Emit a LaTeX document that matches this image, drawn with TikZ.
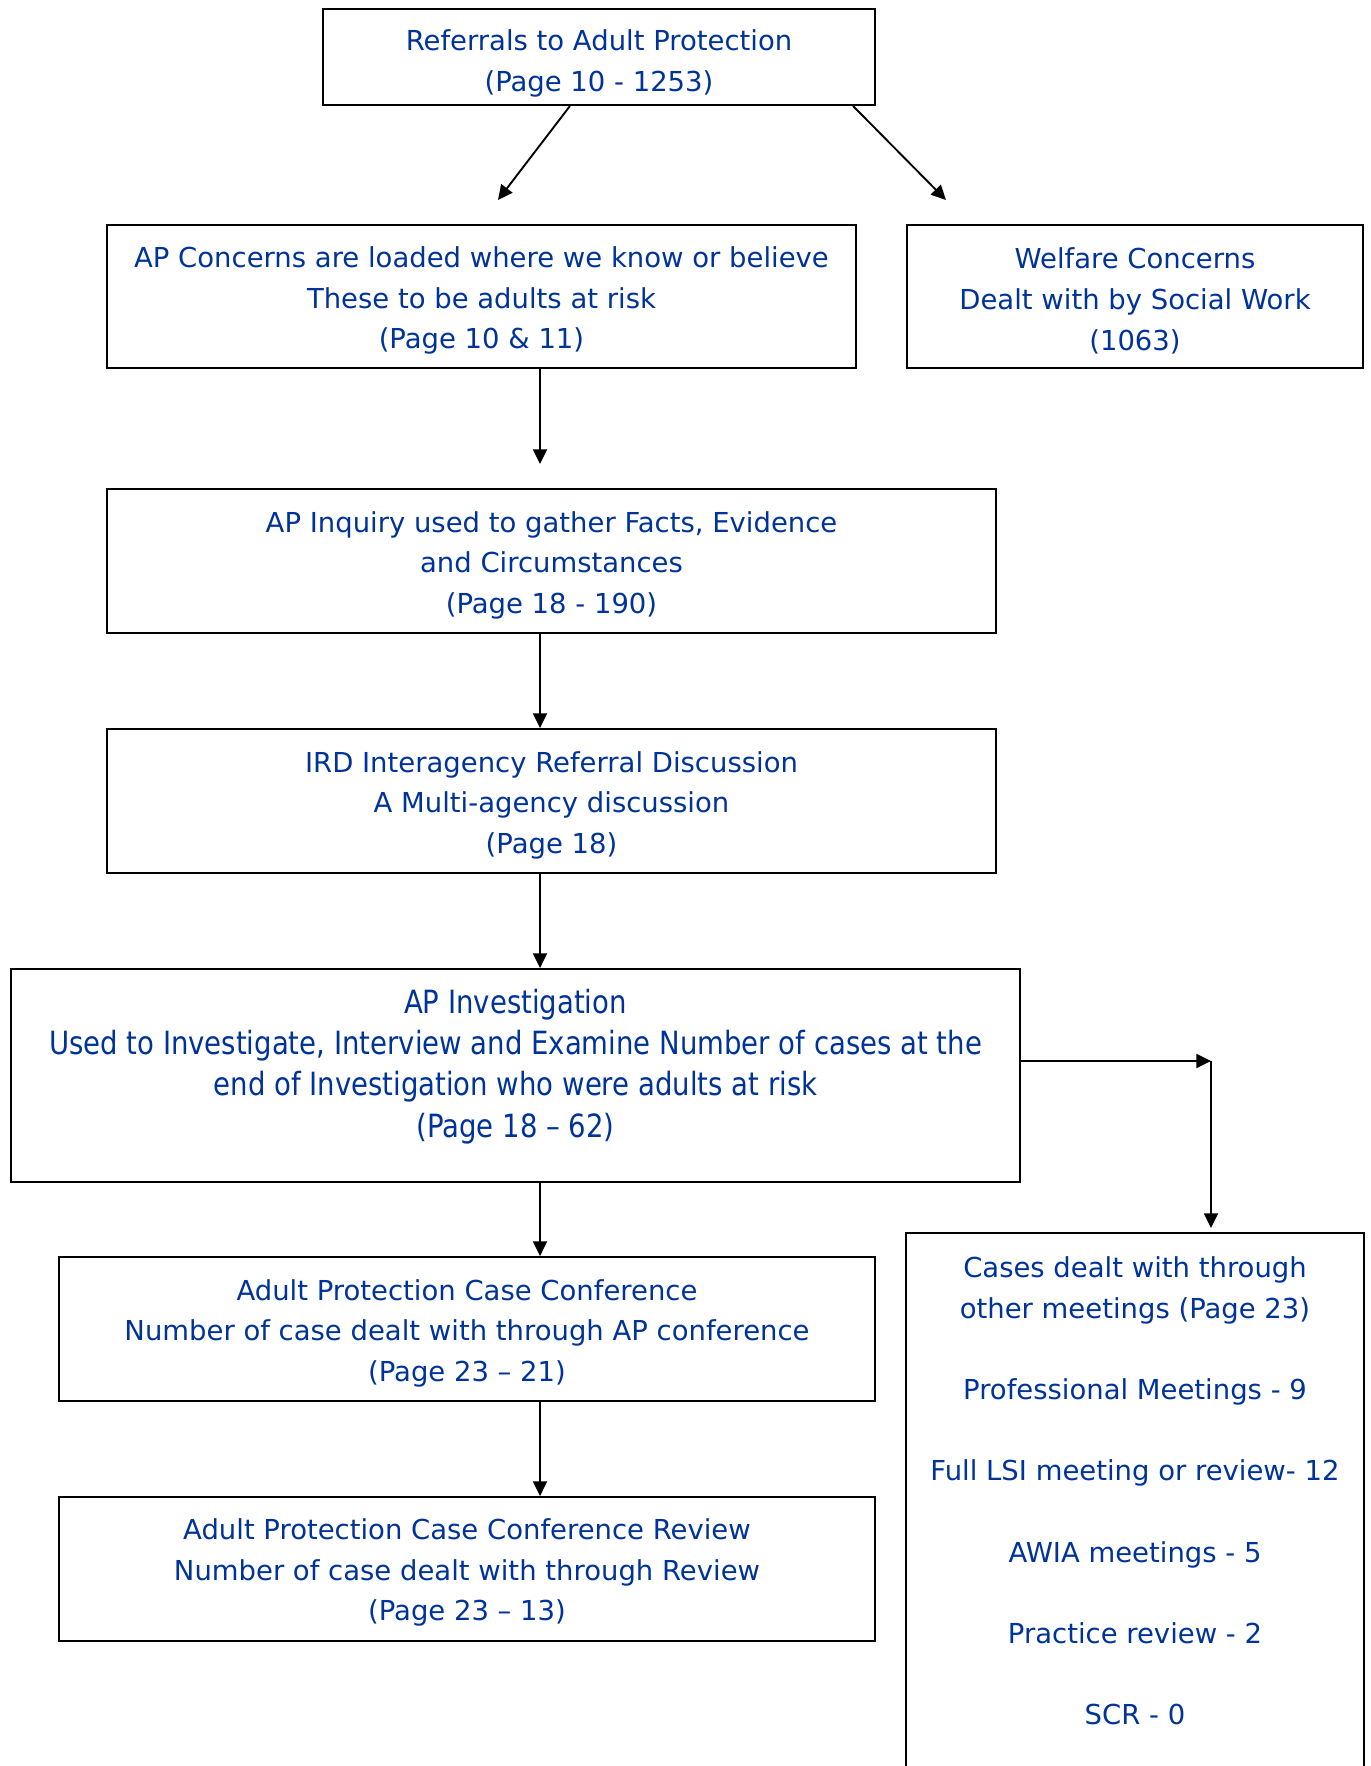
\documentclass[tikz,border=0pt]{standalone}
\usepackage{fontspec}
\setmainfont{DejaVu Sans}
\newfontfamily\condfont[FakeStretch=0.86]{DejaVu Sans}
\usetikzlibrary{arrows.meta}
\definecolor{txtblue}{RGB}{0,51,153}
\newcommand{\topstrut}[1]{\rule{0pt}{#1}}
\tikzset{
  box/.style={draw=black, line width=1.4pt, text=txtblue, align=center, inner sep=0pt,
    font=\fontsize{20.6}{30.5}\selectfont},
  arr/.style={line width=1.4pt, -{Triangle[length=11pt,width=10.5pt]}},
}
\begin{document}
\begin{tikzpicture}[x=0.75pt,y=-0.75pt]
\useasboundingbox (0,0) rectangle (1370,1766);
\node[box, minimum width=414pt, minimum height=72pt] (ref) at (599,57)
  {\topstrut{25pt}Referrals to Adult Protection\\(Page 10 - 1253)};
\node[box, minimum width=561.75pt, minimum height=107.25pt] (conc) at (481.5,296.5)
  {\topstrut{22pt}AP Concerns are loaded where we know or believe\\These to be adults at risk\\(Page 10 \& 11)};
\node[box, minimum width=342pt, minimum height=107.25pt] (welf) at (1135,296.5)
  {\topstrut{22pt}Welfare Concerns\\Dealt with by Social Work\\(1063)};
\node[box, minimum width=666.75pt, minimum height=108pt] (inq) at (551.5,561)
  {\topstrut{22pt}AP Inquiry used to gather Facts, Evidence\\and Circumstances\\(Page 18 - 190)};
\node[box, minimum width=666.75pt, minimum height=108pt] (ird) at (551.5,801)
  {\topstrut{22pt}IRD Interagency Referral Discussion\\A Multi-agency discussion\\(Page 18)};
\node[box, minimum width=756.75pt, minimum height=159.75pt, font=\condfont\fontsize{24}{31}\selectfont] (inv) at (515.5,1075.5)
  {AP Investigation\\Used to Investigate, Interview and Examine Number of cases at the\\end of Investigation who were adults at risk\\(Page 18 – 62)\\[-12pt]\mbox{}};
\node[box, minimum width=612pt, minimum height=108pt] (conf) at (467,1329)
  {\topstrut{22pt}Adult Protection Case Conference\\Number of case dealt with through AP conference\\(Page 23 – 21)};
\node[box, minimum width=612pt, minimum height=108pt] (rev) at (467,1569)
  {\topstrut{21pt}Adult Protection Case Conference Review\\Number of case dealt with through Review\\(Page 23 – 13)};
\node[box, draw=none, minimum width=342pt, minimum height=385.5pt] (cases) at (1135,1491)
  {Cases dealt with through\\other meetings (Page 23)\\ \\Professional Meetings - 9\\ \\Full LSI meeting or review- 12\\ \\AWIA meetings - 5\\ \\Practice review - 2\\ \\SCR - 0};
\draw[line width=1.4pt] ([yshift=-20pt]cases.south west) -- (cases.north west) -- (cases.north east) -- ([yshift=-20pt]cases.south east);
% connectors
\coordinate (a1) at (498,200);
\coordinate (a2) at (946,200);
\coordinate (spine) at (540,0);
\coordinate (a3) at (540,464);
\coordinate (corner) at (1211,1061);
\coordinate (a5) at (1211,1228);
\draw[arr] ([xshift=-21.75pt]ref.south) -- (a1);
\draw[arr] ([xshift=190.5pt]ref.south) -- (a2);
\draw[arr] (conc.south -| spine) -- (a3);
\draw[arr] (inq.south -| spine) -- (ird.north -| spine);
\draw[arr] (ird.south -| spine) -- (inv.north -| spine);
\draw[arr] (inv.south -| spine) -- (conf.north -| spine);
\draw[arr] (conf.south -| spine) -- (rev.north -| spine);
\draw[arr] (inv.east |- corner) -- (corner);
\draw[arr] (corner) -- (a5);
\end{tikzpicture}
\end{document}
